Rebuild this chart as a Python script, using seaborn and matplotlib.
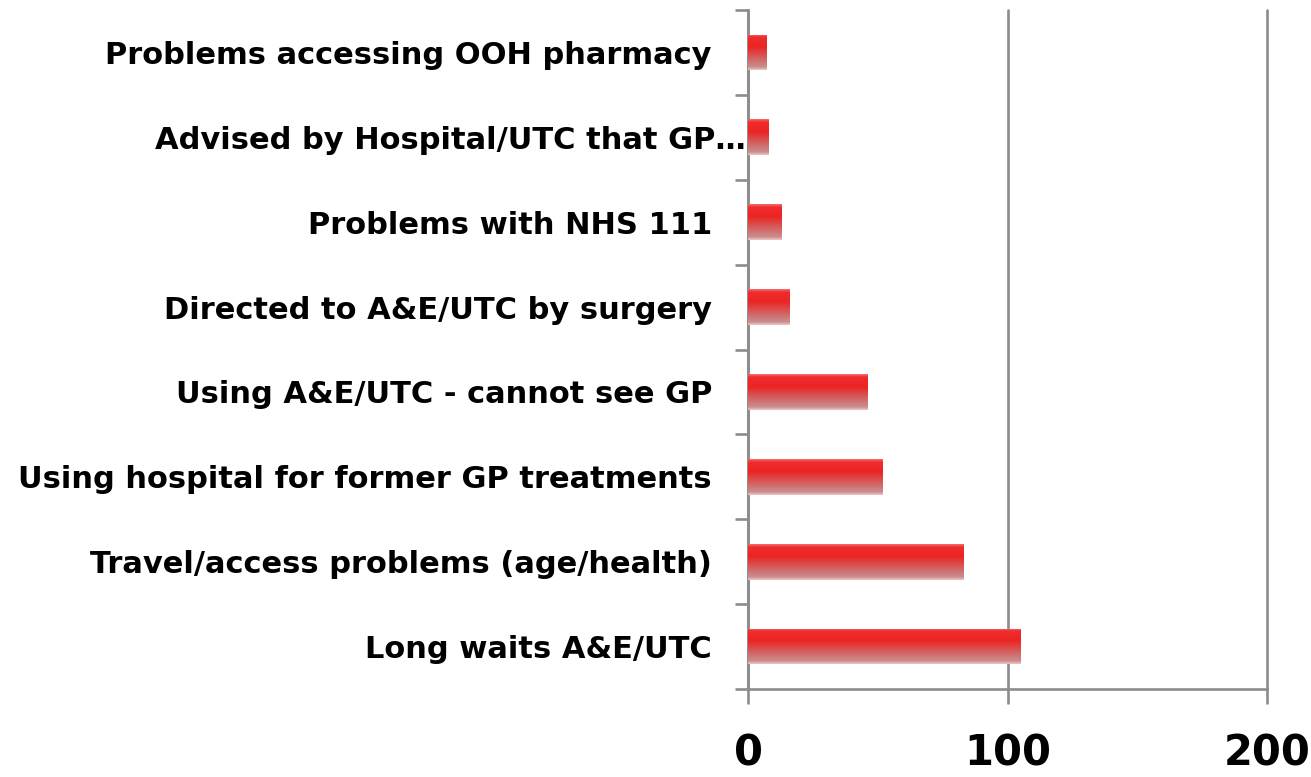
import numpy as np
import pandas as pd
import matplotlib
matplotlib.use("Agg")
import matplotlib.pyplot as plt
import matplotlib.transforms as mtransforms
from matplotlib.colors import LinearSegmentedColormap
import seaborn as sns

categories = [
    "Problems accessing OOH pharmacy",
    "Advised by Hospital/UTC that GP\u2026",
    "Problems with NHS 111",
    "Directed to A&E/UTC by surgery",
    "Using A&E/UTC - cannot see GP",
    "Using hospital for former GP treatments",
    "Travel/access problems (age/health)",
    "Long waits A&E/UTC",
]
counts = [7, 8, 13, 16, 46, 52, 83, 105]
x_ticks = [0, 100, 200]

df = pd.DataFrame({"reason": categories, "count": counts})

sns.set_style("white")
plt.rcParams["font.family"] = ["DejaVu Sans"]

GRAY = "#8c8c8c"
LW = 1.9

fig = plt.figure(figsize=(13.11, 7.77), dpi=100)
ax = fig.add_axes([748 / 1311, 1 - 689 / 777, (1267 - 748) / 1311, (689 - 10) / 777])

sns.barplot(data=df, x="count", y="reason", order=categories, color="#ee2222",
            width=0.42, ax=ax, zorder=3)

# vertical gradient like the original bars
grad = LinearSegmentedColormap.from_list("bar", [
    (0.00, "#f46a6a"),
    (0.08, "#f02c2c"),
    (0.35, "#ec2424"),
    (0.60, "#d85454"),
    (0.92, "#c88e8e"),
    (1.00, "#f0c0c0"),
])
img = np.linspace(0, 1, 64).reshape(-1, 1)
for p in ax.patches:
    x0, y0 = p.get_x(), p.get_y()
    w, h = p.get_width(), p.get_height()
    p.set_facecolor("none")
    p.set_edgecolor("none")
    im = ax.imshow(img, cmap=grad, aspect="auto", extent=[x0, x0 + w, y0 + h, y0],
                   origin="upper", zorder=3, interpolation="bilinear")
    im.set_clip_path(p)

ax.set_xlim(0, 200)
ax.set_ylim(len(categories) - 0.5, -0.5)

# x axis
ax.set_xticks(x_ticks)
ax.set_xticklabels([str(v) for v in x_ticks], fontsize=30, fontweight="bold", color="black")
ax.tick_params(axis="x", bottom=True, direction="out", length=11, width=LW, color=GRAY, pad=20)
ax.grid(axis="x", color=GRAY, linewidth=LW, zorder=1)
for gl in ax.get_xgridlines():
    gl.set_clip_on(False)
ax.set_axisbelow(True)

# y axis: tick marks between categories, labels at centres
ax.set_yticks(np.arange(-0.5, len(categories) + 0.5, 1))
ax.set_yticklabels([])
ax.set_yticks(np.arange(len(categories)), minor=True)
ax.set_yticklabels(categories, minor=True, fontsize=22, fontweight="bold", color="black")
ax.tick_params(axis="y", which="major", left=True, direction="out", length=9.5, width=LW, color=GRAY)
ax.tick_params(axis="y", which="minor", left=True, length=0, pad=26)

for lab in ax.get_yticklabels(minor=True):
    if lab.get_text().startswith("Advised"):
        lab.set_transform(lab.get_transform() +
                          mtransforms.ScaledTranslation(34 / 100, 0, fig.dpi_scale_trans))

ax.set_xlabel("")
ax.set_ylabel("")
for side in ["top", "right"]:
    ax.spines[side].set_visible(False)
for side in ["left", "bottom"]:
    ax.spines[side].set_color(GRAY)
    ax.spines[side].set_linewidth(LW)

fig.savefig("out.png", dpi=100)
